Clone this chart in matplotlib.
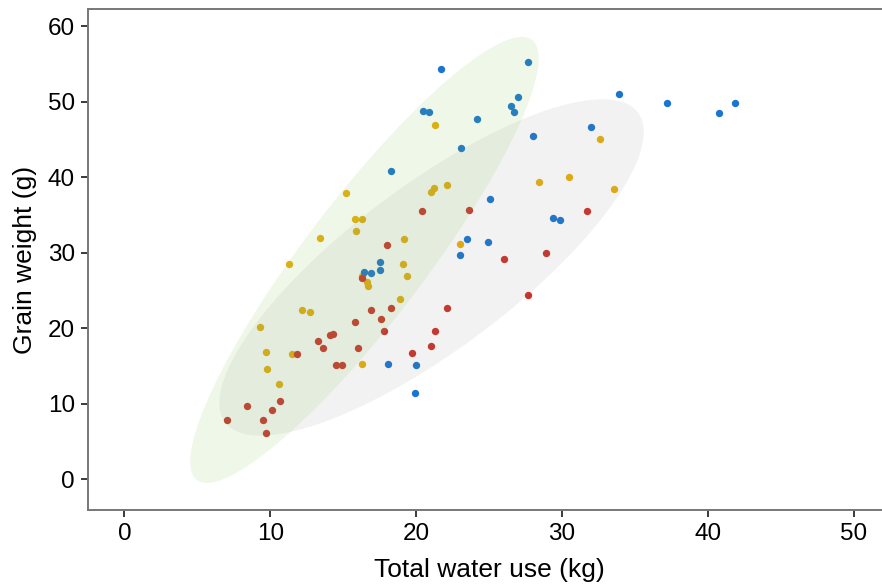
import numpy as np
import matplotlib
matplotlib.use("Agg")
import matplotlib.pyplot as plt
from matplotlib.patches import Polygon

plt.rcParams['font.family'] = ['Liberation Sans', 'DejaVu Sans']

# water use (kg) and grain weight (g) per group
blue_x = [21.7, 20.5, 20.9, 24.2, 23.1, 18.3, 23.5, 23.0, 27.7, 27.0, 26.5, 26.7,
          33.9, 37.2, 40.8, 41.9, 32.0, 28.0, 25.1, 29.4, 29.9, 24.9, 17.5, 17.5,
          16.4, 16.9, 18.1, 20.0, 19.9]
blue_y = [54.3, 48.8, 48.6, 47.8, 43.9, 40.8, 31.8, 29.7, 55.3, 50.7, 49.4, 48.6,
          51.1, 49.8, 48.5, 49.8, 46.7, 45.5, 37.1, 34.6, 34.4, 31.5, 28.8, 27.8,
          27.5, 27.3, 15.3, 15.2, 11.5]

gold_x = [21.3, 15.2, 21.0, 21.2, 22.1, 15.8, 16.3, 15.9, 13.4, 19.2, 23.0, 32.6,
          28.4, 30.5, 33.6, 19.1, 19.4, 18.9, 11.3, 16.3, 16.6, 16.7, 12.2, 12.7,
          9.3, 9.7, 11.5, 16.3, 9.8, 10.6]
gold_y = [47.0, 38.0, 38.1, 38.6, 39.0, 34.5, 34.5, 32.9, 32.0, 31.9, 31.2, 45.1,
          39.4, 40.1, 38.5, 28.6, 27.0, 23.9, 28.6, 27.0, 26.2, 25.6, 22.5, 22.2,
          20.2, 16.9, 16.6, 15.3, 14.6, 12.6]

red_x = [18.0, 23.6, 20.4, 28.9, 31.7, 26.0, 27.7, 22.1, 21.3, 21.0, 19.7, 18.3,
         16.9, 17.6, 17.8, 15.8, 16.0, 14.1, 14.3, 13.3, 13.6, 11.8, 14.5, 14.9,
         10.7, 8.4, 10.1, 7.0, 9.5, 9.7, 16.3]
red_y = [31.0, 35.7, 35.5, 30.0, 35.5, 29.2, 24.4, 22.7, 19.7, 17.7, 16.8, 22.7,
         22.4, 21.2, 19.7, 20.9, 17.4, 19.1, 19.3, 18.3, 17.4, 16.6, 15.1, 15.1,
         10.4, 9.7, 9.2, 7.9, 7.9, 6.1, 26.7]

# ellipses: centre and two conjugate semi-axis vectors (data units)
green_ell = dict(center=(16.46, 29.07), u=(11.49, 29.14), v=(3.28, -4.82))
gray_ell = dict(center=(21.06, 28.08), u=(14.16, 20.50), v=(3.37, -8.69))


def ellipse_pts(center, u, v, n=200):
    t = np.linspace(0, 2 * np.pi, n)
    cx, cy = center
    xs = cx + np.cos(t) * u[0] + np.sin(t) * v[0]
    ys = cy + np.cos(t) * u[1] + np.sin(t) * v[1]
    return np.column_stack([xs, ys])


W, H = 882, 587
fig = plt.figure(figsize=(W / 100, H / 100), dpi=100)
ax = fig.add_axes([88.3 / W, 77 / H, (890 - 88.3) / W, (510 - 9) / H])

ax.scatter(gold_x, gold_y, s=28, color='#E6AF0C', linewidths=0, zorder=2)
ax.scatter(blue_x, blue_y, s=28, color='#1A75CF', linewidths=0, zorder=2)
ax.scatter(red_x, red_y, s=28, color='#CC3128', linewidths=0, zorder=2)

ax.add_patch(Polygon(ellipse_pts(**gray_ell), closed=True, facecolor='#808080',
                     alpha=0.1, edgecolor='none', zorder=3))
ax.add_patch(Polygon(ellipse_pts(**green_ell), closed=True, facecolor='#7CC24A',
                     alpha=0.12, edgecolor='none', zorder=3))

ax.set_xlim(-2.48, 52.5)
ax.set_ylim(-4.04, 62.3)
ax.set_xticks([0, 10, 20, 30, 40, 50])
ax.set_yticks([0, 10, 20, 30, 40, 50, 60])

for s in ax.spines.values():
    s.set_color('#777777')
    s.set_linewidth(1.4)
ax.tick_params(direction='out', length=5, width=1.4, color='#3a3a3a',
               labelsize=17.5, labelcolor='black', pad=4.5)

ax.set_xlabel('Total water use (kg)', fontsize=19, labelpad=9)
ax.set_ylabel('Grain weight (g)', fontsize=19, labelpad=8)

fig.savefig('out.png', dpi=100)
